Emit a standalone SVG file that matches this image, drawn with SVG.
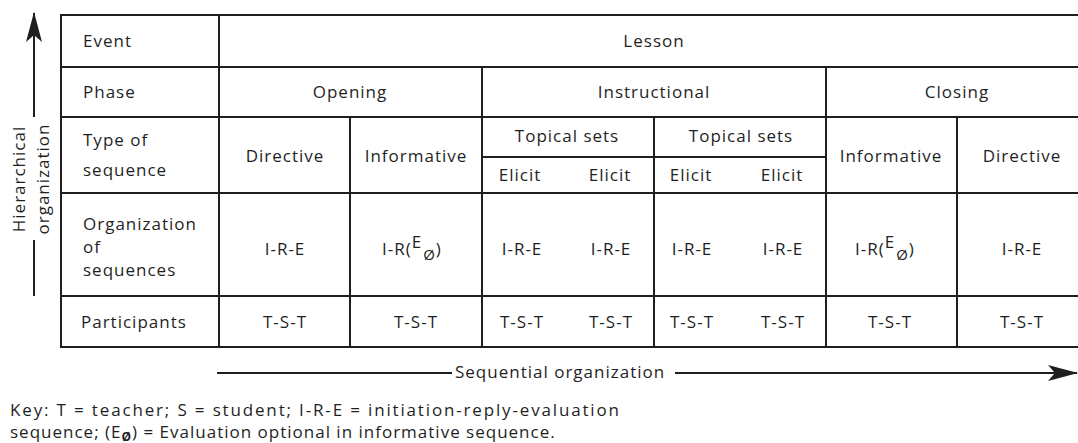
<svg xmlns="http://www.w3.org/2000/svg" width="1078" height="443" viewBox="0 0 1078 443">
  <style>
    text { font-family: "Open Sans", "DejaVu Sans", sans-serif; font-size: 17px; fill: #1f1f1f; letter-spacing: 1px; }
    .c { text-anchor: middle; }
    .null { font-size: 15px; }
    .grid line { stroke: #1f1f1f; stroke-width: 2; stroke-linecap: square; }
    .axis { stroke: #1f1f1f; stroke-width: 2; fill: none; }
    .head { fill: #1f1f1f; stroke: none; }
  </style>
  <defs>
    <marker id="barb" viewBox="0 0 30 16" refX="29" refY="8" markerWidth="30" markerHeight="16" markerUnits="userSpaceOnUse" orient="auto">
      <path class="head" d="M0,0 L30,8 L0,16 L7,8 Z"/>
    </marker>
  </defs>
  <rect width="1078" height="443" fill="#ffffff"/>

  <!-- table rules -->
  <g id="grid" class="grid">
    <line x1="61" y1="15" x2="1078" y2="15"/>
    <line x1="61" y1="67" x2="1078" y2="67"/>
    <line x1="61" y1="117" x2="1078" y2="117"/>
    <line x1="482" y1="157" x2="826" y2="157"/>
    <line x1="61" y1="193" x2="1078" y2="193"/>
    <line x1="61" y1="296" x2="1078" y2="296"/>
    <line x1="61" y1="347" x2="1078" y2="347"/>
    <line x1="61" y1="15" x2="61" y2="347"/>
    <line x1="219" y1="15" x2="219" y2="347"/>
    <line x1="482" y1="67" x2="482" y2="347"/>
    <line x1="826" y1="67" x2="826" y2="347"/>
    <line x1="350" y1="117" x2="350" y2="347"/>
    <line x1="654" y1="117" x2="654" y2="347"/>
    <line x1="957" y1="117" x2="957" y2="347"/>
  </g>

  <!-- row headings -->
  <g id="row-labels">
    <text x="83" y="47">Event</text>
    <text x="83" y="98">Phase</text>
    <text x="83" y="146">Type of</text>
    <text x="83" y="176">sequence</text>
    <text x="83" y="230">Organization</text>
    <text x="83" y="253">of</text>
    <text x="83" y="276">sequences</text>
    <text x="81" y="328">Participants</text>
  </g>

  <g id="event">
    <text class="c" x="654" y="47">Lesson</text>
  </g>

  <g id="phases">
    <text class="c" x="350" y="98">Opening</text>
    <text class="c" x="654" y="98">Instructional</text>
    <text class="c" x="957" y="98">Closing</text>
  </g>

  <g id="opening">
    <text class="c" x="285" y="162">Directive</text>
    <text class="c" x="416" y="162">Informative</text>
    <text class="c" x="285" y="255">I-R-E</text>
    <text x="382" y="255">I-R(<tspan dy="-7">E</tspan><tspan class="null" dx="1" dy="12">Ø</tspan><tspan dy="-5">)</tspan></text>
    <text class="c" x="285" y="328">T-S-T</text>
    <text class="c" x="416" y="328">T-S-T</text>
  </g>

  <g id="instructional">
    <text class="c" x="567" y="142">Topical sets</text>
    <text class="c" x="741" y="142">Topical sets</text>
    <text class="c" x="520" y="181">Elicit</text>
    <text class="c" x="610" y="181">Elicit</text>
    <text class="c" x="691" y="181">Elicit</text>
    <text class="c" x="782" y="181">Elicit</text>
    <text class="c" x="522" y="255">I-R-E</text>
    <text class="c" x="611" y="255">I-R-E</text>
    <text class="c" x="692" y="255">I-R-E</text>
    <text class="c" x="783" y="255">I-R-E</text>
    <text class="c" x="522" y="328">T-S-T</text>
    <text class="c" x="611" y="328">T-S-T</text>
    <text class="c" x="692" y="328">T-S-T</text>
    <text class="c" x="783" y="328">T-S-T</text>
  </g>

  <g id="closing">
    <text class="c" x="891" y="162">Informative</text>
    <text class="c" x="1022" y="162">Directive</text>
    <text x="855" y="255">I-R(<tspan dy="-7">E</tspan><tspan class="null" dx="1" dy="12">Ø</tspan><tspan dy="-5">)</tspan></text>
    <text class="c" x="1022" y="255">I-R-E</text>
    <text class="c" x="890" y="328">T-S-T</text>
    <text class="c" x="1022" y="328">T-S-T</text>
  </g>

  <!-- axes -->
  <g id="connectors">
    <line class="axis" x1="34" y1="117" x2="34" y2="13" marker-end="url(#barb)"/>
    <line class="axis" x1="34" y1="240" x2="34" y2="296"/>
    <line class="axis" x1="217" y1="373" x2="452" y2="373"/>
    <line class="axis" x1="675" y1="373" x2="1077" y2="373" marker-end="url(#barb)"/>
  </g>

  <g id="axis-labels">
    <text class="c" transform="translate(25,179) rotate(-90)">Hierarchical</text>
    <text class="c" transform="translate(49,179) rotate(-90)">organization</text>
    <text x="455" y="378">Sequential organization</text>
  </g>

  <g id="key">
    <text x="10" y="416" textLength="610" lengthAdjust="spacing">Key: T = teacher; S = student; I-R-E = initiation-reply-evaluation</text>
    <text x="10" y="438">sequence; (E<tspan font-size="12" font-weight="bold" dy="3">Ø</tspan><tspan dy="-3">) = Evaluation optional in informative sequence.</tspan></text>
  </g>
</svg>
